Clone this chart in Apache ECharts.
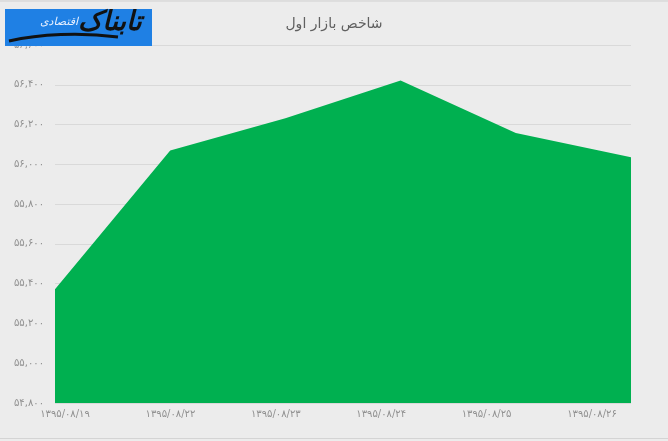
<!DOCTYPE html>
<html>
<head>
<meta charset="utf-8">
<script src="https://cdn.jsdelivr.net/npm/echarts@6/dist/echarts.min.js"></script>
<style>
html,body{margin:0;padding:0;background:#ececec;}
#c{width:668px;height:441px;}
</style>
</head>
<body>
<div id="c"></div>
<script>
const categories = ['۱۳۹۵/۰۸/۱۹','۱۳۹۵/۰۸/۲۲','۱۳۹۵/۰۸/۲۳','۱۳۹۵/۰۸/۲۴','۱۳۹۵/۰۸/۲۵','۱۳۹۵/۰۸/۲۶'];
const indexValues = [55372, 56069, 56232, 56422, 56157, 56036];
const yMin = 54800, yMax = 56600, yStep = 200;
const titleText = 'شاخص بازار اول';
const logoMain = 'تابناک';
const logoSub = 'اقتصادی';

const fa = '۰۱۲۳۴۵۶۷۸۹';
function toFa(n){
  const s = Math.round(n).toString().replace(/\B(?=(\d{3})+(?!\d))/g, ',');
  return s.replace(/\d/g, d => fa[+d]);
}

const chart = echarts.init(document.getElementById('c'));
const FONT = '"DejaVu Sans", sans-serif';
chart.setOption({
  backgroundColor: '#ececec',
  animation: false,
  title: {
    text: titleText, left: 'center', top: 12,
    textStyle: {fontFamily: FONT, fontSize: 14, fontWeight: 'normal', color: '#606060'}
  },
  grid: [
    {left: 55, right: 37, top: 45, bottom: 38},
    {left: 65, right: 76, top: 45, bottom: 38}
  ],
  xAxis: [
    {type: 'category', gridIndex: 0, data: categories, boundaryGap: false,
     axisLine: {show: false}, axisTick: {show: false}, axisLabel: {show: false}, splitLine: {show: false}},
    {type: 'category', gridIndex: 1, data: categories, boundaryGap: false,
     axisLine: {show: false}, axisTick: {show: false}, splitLine: {show: false},
     axisLabel: {margin: 6, fontFamily: FONT, fontSize: 10, color: '#909090'}}
  ],
  yAxis: [
    {type: 'value', gridIndex: 0, min: yMin, max: yMax, interval: yStep,
     axisLine: {show: false}, axisTick: {show: false},
     splitLine: {lineStyle: {color: '#d9d9d9', width: 1}},
     axisLabel: {margin: 11, fontFamily: FONT, fontSize: 10, color: '#909090', formatter: v => toFa(v)}},
    {type: 'value', gridIndex: 1, min: yMin, max: yMax, show: false}
  ],
  series: [{
    type: 'line', xAxisIndex: 0, yAxisIndex: 0, data: indexValues,
    symbol: 'none', lineStyle: {width: 0}, areaStyle: {color: '#00b050', opacity: 1},
    itemStyle: {color: '#00b050'}
  }],
  graphic: [
    {type: 'rect', z: 100, shape: {x: 5, y: 9, width: 147, height: 37}, style: {fill: '#1f80e4'}},
    {type: 'bezierCurve', z: 101, shape: {x1: 9, y1: 41, cpx1: 40, cpy1: 34, x2: 118, y2: 37, cpx2: 80, cpy2: 32},
     style: {stroke: '#111', lineWidth: 3, fill: null}},
    {type: 'text', z: 102, left: 78, top: 9, style: {text: logoMain, font: 'bold italic 27px "DejaVu Sans"', fill: '#111'}},
    {type: 'text', z: 102, left: 40, top: 17, style: {text: logoSub, font: 'italic 11px "DejaVu Sans"', fill: '#e8f0ff'}},
    {type: 'line', z: 100, shape: {x1: 0, y1: 1, x2: 668, y2: 1}, style: {stroke: '#cfcfcf', lineWidth: 1}},
    {type: 'line', z: 100, shape: {x1: 0, y1: 438.5, x2: 668, y2: 438.5}, style: {stroke: '#d4d4d4', lineWidth: 1}}
  ]
});
</script>
</body>
</html>
